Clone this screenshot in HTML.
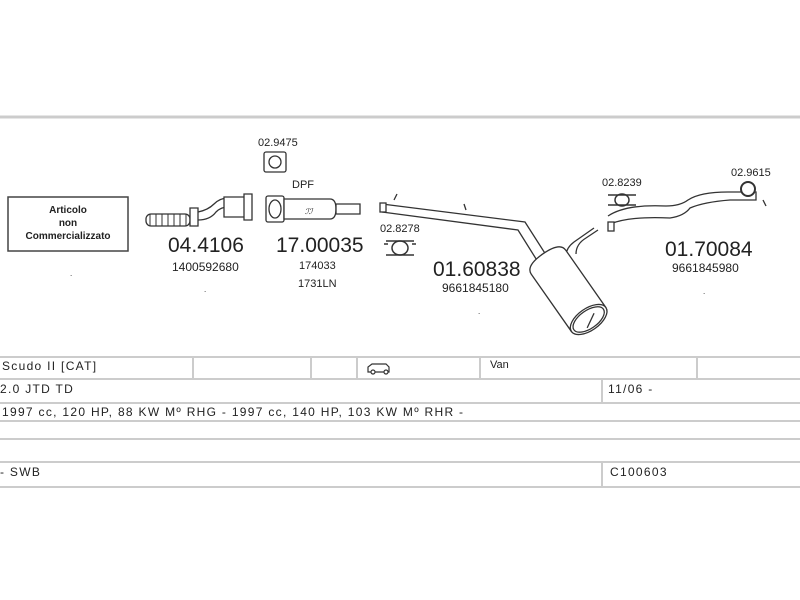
<!DOCTYPE html>
<html><head><style>
body{margin:0;background:#fff;width:800px;height:600px;overflow:hidden}
svg{display:block}
text{font-family:"Liberation Sans",sans-serif;fill:#222}
.t{letter-spacing:1.3px}
</style></head><body>
<svg width="800" height="600" viewBox="0 0 800 600">
<line x1="0" y1="117" x2="800" y2="117" stroke="#ccc" stroke-width="3"/>
<rect x="8" y="197" width="120" height="54" fill="#fff" stroke="#444" stroke-width="1.5"/>
<text x="68" y="213" font-size="10" text-anchor="middle" font-weight="bold">Articolo</text>
<text x="68" y="226" font-size="10" text-anchor="middle" font-weight="bold">non</text>
<text x="68" y="239" font-size="10" text-anchor="middle" font-weight="bold">Commercializzato</text>
<text x="70" y="276" font-size="8">.</text>
<g stroke="#333" stroke-width="1.3" fill="#fff">
<rect x="146" y="214" width="44" height="12" rx="5"/>
<path d="M150 214v12M156 214v12M162 214v12M168 214v12M174 214v12M180 214v12M186 214v12" stroke-width="1"/>
<path d="M190 208h8v18h-8z"/>
<path d="M198 212 q10 -2 16 -8 q6 -6 14 -6 M198 220 q12 0 18 -8 q5 -5 12 -5"/>
<path d="M224 197h22v20h-22z"/>
<path d="M244 194h8v26h-8z"/>
<rect x="266" y="196" width="18" height="26" rx="2"/>
<ellipse cx="275" cy="209" rx="6" ry="9"/>
<path d="M284 199h46q6 0 6 10q0 10-6 10h-46z"/>
<path d="M336 204h24v10h-24z"/>
<rect x="264" y="152" width="22" height="20" rx="2"/>
<ellipse cx="275" cy="162" rx="6" ry="6"/>
</g>
<text x="305" y="214" font-size="8" font-style="italic">ℐℐ</text>
<text x="258" y="146" font-size="11">02.9475</text>
<text x="292" y="188" font-size="11">DPF</text>
<text x="168" y="252" font-size="21">04.4106</text>
<text x="172" y="271" font-size="12">1400592680</text>
<text x="276" y="252" font-size="21">17.00035</text>
<text x="299" y="269" font-size="11">174033</text>
<text x="298" y="287" font-size="11">1731LN</text>
<text x="204" y="292" font-size="8">.</text>
<text x="380" y="232" font-size="11">02.8278</text>
<g stroke="#333" stroke-width="1.5" fill="#fff">
<ellipse cx="400" cy="248" rx="8" ry="7"/>
<path d="M386 241h28M386 255h28M388 244h-4M412 244h4"/>
</g>
<g stroke="#333" stroke-width="1.3" fill="none">
<path d="M382 204 L525 222 L548 258 M382 212 L518 230 L538 262"/>
<rect x="380" y="203" width="6" height="9" fill="#fff"/>
<path d="M394 200 l3 -6 M466 210 l-2 -6"/>
<path d="M576 254 q0 -10 10 -16 l12 -8 M566 256 q0 -8 8 -14 l20 -14"/>
<g transform="translate(568,290) rotate(55)" fill="#fff">
<path d="M-34 -21 H36 V21 H-34 Q-44 21 -44 0 Q-44 -21 -34 -21 Z"/>
<ellipse cx="36" cy="0" rx="11" ry="21"/>
<ellipse cx="36" cy="0" rx="9" ry="18"/>
<path d="M34 -8 L42 6"/>
</g>
<path d="M610 224 q20 -8 60 -6 q14 -2 20 -10 q14 -6 40 -8 l26 0 l0 -8 l-28 0 q-28 0 -40 8 q-8 6 -22 6 q-40 -2 -58 10"/>
<rect x="608" y="222" width="6" height="9" fill="#fff"/>
<path d="M766 206 l-3 -6"/>
</g>
<text x="602" y="186" font-size="11">02.8239</text>
<g stroke="#333" stroke-width="1.5" fill="#fff">
<ellipse cx="622" cy="200" rx="7" ry="6"/>
<path d="M608 195h28M608 205h28"/>
</g>
<text x="731" y="176" font-size="11">02.9615</text>
<circle cx="748" cy="189" r="7" fill="#fff" stroke="#333" stroke-width="2"/>
<text x="433" y="276" font-size="21">01.60838</text>
<text x="442" y="292" font-size="12">9661845180</text>
<text x="478" y="314" font-size="8">.</text>
<text x="665" y="256" font-size="21">01.70084</text>
<text x="672" y="272" font-size="12">9661845980</text>
<text x="703" y="294" font-size="8">.</text>
<g stroke="#ccc" stroke-width="2">
<line x1="0" y1="357" x2="800" y2="357"/>
<line x1="0" y1="379" x2="800" y2="379"/>
<line x1="0" y1="403" x2="800" y2="403"/>
<line x1="0" y1="421" x2="800" y2="421"/>
<line x1="0" y1="439" x2="800" y2="439"/>
<line x1="0" y1="462" x2="800" y2="462"/>
<line x1="0" y1="487" x2="800" y2="487"/>
<line x1="193" y1="357" x2="193" y2="379"/>
<line x1="311" y1="357" x2="311" y2="379"/>
<line x1="357" y1="357" x2="357" y2="379"/>
<line x1="480" y1="357" x2="480" y2="379"/>
<line x1="697" y1="357" x2="697" y2="379"/>
<line x1="602" y1="379" x2="602" y2="403"/>
<line x1="602" y1="462" x2="602" y2="487"/>
</g>
<g stroke="#333" stroke-width="1.2" fill="#fff">
<path d="M368 372v-5l4-3h14l3 3v5z"/>
<circle cx="373" cy="372" r="2"/><circle cx="386" cy="372" r="2"/>
</g>
<text class="t" x="2" y="370" font-size="12">Scudo II  [CAT]</text>
<text x="490" y="368" font-size="11">Van</text>
<text class="t" x="0" y="393" font-size="12">2.0 JTD TD</text>
<text class="t" x="608" y="393" font-size="12">11/06 -</text>
<text class="t" x="2" y="416" font-size="12">1997 cc, 120 HP, 88 KW Mº RHG - 1997 cc, 140 HP, 103 KW Mº RHR -</text>
<text class="t" x="0" y="476" font-size="12">- SWB</text>
<text class="t" x="610" y="476" font-size="12">C100603</text>
</svg>
</body></html>
